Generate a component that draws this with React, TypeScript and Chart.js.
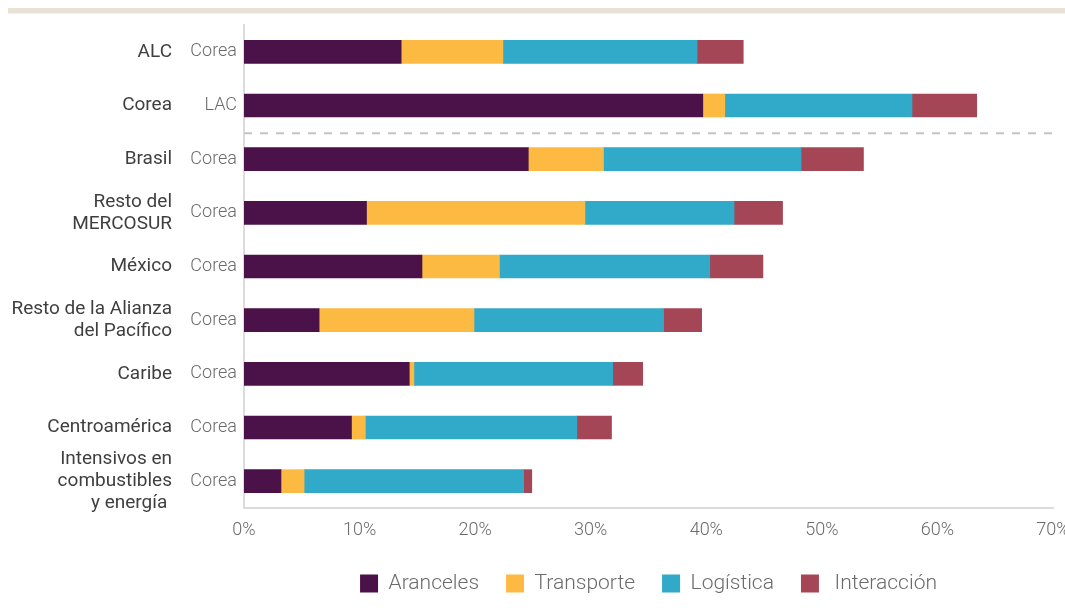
import React, { useEffect, useRef } from 'react';
import { Chart, registerables } from 'chart.js';

Chart.register(...registerables);

const groupLabels: string[][] = [
  ['ALC'],
  ['Corea'],
  ['Brasil'],
  ['Resto del', 'MERCOSUR'],
  ['México'],
  ['Resto de la Alianza', 'del Pacífico'],
  ['Caribe'],
  ['Centroamérica'],
  ['Intensivos en', 'combustibles', 'y energía '],
];
const partnerLabels = ['Corea', 'LAC', 'Corea', 'Corea', 'Corea', 'Corea', 'Corea', 'Corea', 'Corea'];

const aranceles = [13.6, 39.7, 24.6, 10.6, 15.4, 6.5, 14.3, 9.3, 3.2];
const transporte = [8.8, 1.9, 6.5, 18.9, 6.7, 13.4, 0.4, 1.2, 2.0];
const logistica = [16.8, 16.2, 17.1, 12.9, 18.2, 16.4, 17.2, 18.3, 19.0];
const interaccion = [4.0, 5.6, 5.4, 4.2, 4.6, 3.3, 2.6, 3.0, 0.7];

const seriesNames = ['Aranceles', 'Transporte', 'Logística', ' Interacción'];
const seriesColors = ['#4A1249', '#FDBA43', '#31A9C9', '#A54657'];

const xMin = 0;
const xMax = 70;
const xStep = 10;

const FONT = 'Roboto, "Noto Sans", sans-serif';

export default function App() {
  const ref = useRef<HTMLCanvasElement | null>(null);

  useEffect(() => {
    if (!ref.current) return;
    const deco = {
      id: 'deco',
      beforeDraw(chart: any) {
        const ctx = chart.ctx;
        ctx.save();
        ctx.fillStyle = '#EAE2D7';
        ctx.fillRect(8, 8, 1057, 5.5);
        ctx.restore();
      },
      afterDatasetsDraw(chart: any) {
        const ctx = chart.ctx;
        const y = chart.scales.y;
        const a = chart.chartArea;
        const yy = (y.getPixelForValue(1) + y.getPixelForValue(2)) / 2 + 1;
        ctx.save();
        ctx.strokeStyle = '#C4C4C4';
        ctx.lineWidth = 2;
        ctx.setLineDash([8, 8]);
        ctx.beginPath();
        ctx.moveTo(a.left, yy);
        ctx.lineTo(a.right, yy);
        ctx.stroke();
        ctx.restore();
      },
    };

    const datasets = [aranceles, transporte, logistica, interaccion].map((d, i) => ({
      label: seriesNames[i],
      data: d,
      backgroundColor: seriesColors[i],
      borderWidth: 0,
      barThickness: 23,
      yAxisID: 'y',
    }));

    const zeroPad = (s: any) => {
      s.paddingTop = 0;
      s.paddingBottom = 0;
      s.paddingLeft = 0;
      s.paddingRight = 0;
    };

    const chart = new Chart(ref.current, {
      type: 'bar',
      data: { labels: partnerLabels, datasets },
      plugins: [deco],
      options: {
        indexAxis: 'y',
        animation: false,
        responsive: false,
        devicePixelRatio: 1,
        layout: { padding: { left: 8, top: 25, right: 12, bottom: 7 } },
        scales: {
          x: {
            stacked: true,
            min: xMin,
            max: xMax,
            ticks: {
              stepSize: xStep,
              callback: (v: any) => v + '%',
              color: '#6b6b6b',
              font: { family: FONT, size: 18, weight: '300' as any },
              padding: 12,
            },
            grid: { display: false, drawTicks: false },
            border: { display: true, color: '#DCDCDC', width: 2 },
            afterFit: (s: any) => {
              s.height = 38;
              zeroPad(s);
            },
          },
          y: {
            stacked: true,
            weight: 0,
            position: 'left',
            ticks: {
              autoSkip: false,
              color: '#6b6b6b',
              font: { family: FONT, size: 18, weight: '300' as any },
              padding: 7,
            },
            grid: { display: false, drawTicks: false },
            border: { display: true, color: '#DCDCDC', width: 2 },
            afterFit: (s: any) => {
              s.width = 60;
              zeroPad(s);
            },
          },
          y2: {
            type: 'category',
            labels: groupLabels as any,
            weight: 1,
            position: 'left',
            offset: true,
            ticks: {
              autoSkip: false,
              color: '#3f3f3f',
              font: { family: FONT, size: 19, weight: '400' as any, lineHeight: 1.15 },
              padding: 12,
            },
            grid: { display: false, drawTicks: false },
            border: { display: false },
            afterFit: (s: any) => {
              s.width = 176;
              zeroPad(s);
            },
          },
        },
        plugins: {
          legend: {
            position: 'bottom',
            fullSize: false,
            labels: {
              boxWidth: 18,
              boxHeight: 18,
              padding: 27,
              color: '#6b6b6b',
              font: { family: FONT, size: 21, weight: '300' as any },
            },
          },
          tooltip: { enabled: false },
        },
      } as any,
    });
    return () => chart.destroy();
  }, []);

  return (
    <div style={{ position: 'fixed', left: 0, top: 0, width: 1065, height: 611, background: '#fff' }}>
      <canvas ref={ref} width={1065} height={611} style={{ display: 'block' }} />
    </div>
  );
}
